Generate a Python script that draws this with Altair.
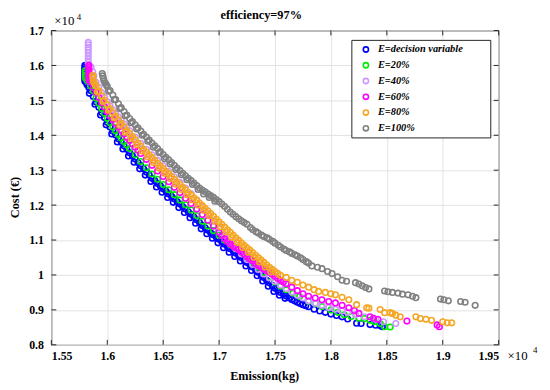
import altair as alt
import pandas as pd

series_names = ["E=decision variable", "E=20%", "E=40%", "E=60%", "E=80%", "E=100%"]
series_colors = ["#0000ff", "#00ee00", "#cc99ff", "#ff00ff", "#f5a623", "#808080"]

x_ticks = [1.55, 1.6, 1.65, 1.7, 1.75, 1.8, 1.85, 1.9, 1.95]
y_ticks = [0.8, 0.9, 1.0, 1.1, 1.2, 1.3, 1.4, 1.5, 1.6, 1.7]

# (emission x1e4 kg, cost x1e4 EUR)
blue = [(1.580,1.600),(1.580,1.595),(1.580,1.590),(1.580,1.585),(1.580,1.580),(1.580,1.575),(1.580,1.570),(1.580,1.565),(1.580,1.560),(1.580,1.555),
        (1.5815,1.549),(1.582,1.545),(1.5835,1.537),(1.585,1.528),(1.5875,1.511),(1.590,1.495),(1.5925,1.480),(1.595,1.465),(1.5975,1.451),(1.600,1.437),
        (1.6025,1.424),(1.605,1.412),(1.6075,1.401),(1.610,1.390),(1.6125,1.380),(1.615,1.370),(1.6175,1.360),(1.620,1.350),(1.6225,1.341),(1.625,1.332),
        (1.6275,1.322),(1.630,1.313),(1.6325,1.304),(1.635,1.295),(1.6375,1.286),(1.640,1.277),(1.6425,1.270),(1.645,1.262),(1.6475,1.255),(1.650,1.247),
        (1.6525,1.240),(1.655,1.232),(1.6575,1.225),(1.660,1.218),(1.6625,1.210),(1.665,1.203),(1.6675,1.196),(1.670,1.189),(1.6725,1.181),(1.675,1.174),
        (1.6775,1.166),(1.680,1.158),(1.6825,1.150),(1.685,1.142),(1.6875,1.135),(1.690,1.128),(1.6925,1.121),(1.695,1.115),(1.6975,1.108),(1.700,1.102),
        (1.7025,1.095),(1.705,1.088),(1.7075,1.081),(1.710,1.075),(1.7125,1.069),(1.715,1.063),(1.7175,1.056),(1.720,1.050),(1.7225,1.043),(1.725,1.036),
        (1.7275,1.030),(1.730,1.023),(1.7325,1.016),(1.735,1.008),(1.7375,1.000),(1.740,0.993),(1.7425,0.985),(1.745,0.978),(1.7475,0.970),(1.750,0.962),
        (1.7525,0.956),(1.755,0.950),(1.7575,0.945),(1.760,0.940),(1.7625,0.935),(1.765,0.930),(1.7675,0.926),(1.770,0.922),(1.7725,0.918),(1.775,0.915),
        (1.7775,0.912),(1.780,0.909),(1.785,0.902),(1.790,0.897),(1.795,0.893),(1.800,0.888),(1.805,0.884),(1.810,0.880),(1.815,0.874),(1.823,0.862),
        (1.827,0.861),(1.835,0.858),(1.840,0.856),(1.844,0.855),(1.846,0.852),
        # lower edge of the dense blue band
        (1.584,1.520),(1.589,1.489),(1.594,1.458),(1.599,1.430),(1.604,1.404),(1.609,1.381),(1.614,1.361),(1.619,1.341),(1.624,1.323),(1.629,1.304),
        (1.634,1.286),(1.639,1.268),(1.644,1.252),(1.649,1.237),(1.654,1.222),(1.659,1.208),(1.664,1.193),(1.669,1.179),(1.674,1.164),(1.679,1.148),
        (1.684,1.132),(1.689,1.118),(1.694,1.105),(1.699,1.092),(1.704,1.078),(1.709,1.065),(1.714,1.053),(1.719,1.040),(1.724,1.026),(1.729,1.013),
        (1.734,0.998),(1.739,0.983),(1.744,0.968),(1.749,0.953),(1.754,0.942),(1.759,0.933)]

green = [(1.5805,1.585),(1.5805,1.578),(1.5805,1.571),(1.5805,1.564),(1.582,1.557),(1.585,1.542),(1.5875,1.527),(1.590,1.507),(1.5925,1.492),(1.595,1.477),
         (1.5975,1.463),(1.600,1.449),(1.6025,1.436),(1.605,1.424),(1.6075,1.413),(1.610,1.402),(1.6125,1.392),(1.615,1.382),(1.6175,1.372),(1.620,1.362),
         (1.625,1.344),(1.630,1.325),(1.635,1.307),(1.640,1.289),(1.645,1.274),(1.650,1.259),(1.655,1.244),(1.660,1.230),(1.665,1.215),(1.670,1.201),
         (1.675,1.186),(1.680,1.170),(1.685,1.154),(1.690,1.140),(1.695,1.127),(1.700,1.114),(1.705,1.100),(1.710,1.087),(1.715,1.075),(1.720,1.062),
         (1.725,1.049),(1.730,1.036),(1.735,1.022),(1.740,1.008),(1.745,0.994),(1.750,0.980),(1.755,0.968),(1.760,0.958),(1.766,0.948),(1.772,0.938),
         (1.780,0.925),(1.786,0.918),(1.792,0.910),(1.800,0.900),(1.806,0.893),(1.812,0.886),(1.818,0.881),(1.825,0.876),(1.830,0.875),(1.835,0.870),
         (1.839,0.866),(1.844,0.861),(1.848,0.852),(1.853,0.851)]

lilac = [(1.583,1.666),(1.583,1.659),(1.583,1.652),(1.583,1.645),(1.583,1.636),(1.583,1.627),(1.583,1.618),(1.583,1.609),(1.5835,1.602),
         (1.5855,1.595),(1.587,1.582),(1.588,1.570),(1.590,1.552),(1.5925,1.537),(1.595,1.522),(1.5975,1.509),(1.600,1.496),(1.6025,1.484),(1.605,1.473),
         (1.6075,1.462),(1.610,1.452),(1.6125,1.442),(1.615,1.432),(1.6175,1.422),(1.620,1.413),(1.625,1.395),(1.630,1.377),(1.635,1.360),(1.640,1.344),
         (1.645,1.328),(1.650,1.313),(1.655,1.297),(1.660,1.281),(1.665,1.265),(1.670,1.249),(1.675,1.232),(1.680,1.215),(1.685,1.196),(1.690,1.176),
         (1.695,1.155),(1.700,1.134),(1.705,1.113),(1.710,1.094),(1.715,1.076),(1.720,1.060),(1.725,1.044),(1.730,1.030),(1.735,1.016),(1.740,1.003),
         (1.745,0.992),(1.750,0.982),(1.755,0.971),(1.760,0.961),(1.765,0.951),(1.770,0.942),(1.775,0.934),(1.780,0.926),(1.786,0.919),(1.792,0.913),
         (1.798,0.907),(1.804,0.902),(1.810,0.897),(1.815,0.893),(1.822,0.887),(1.830,0.880),(1.840,0.873),(1.847,0.866),(1.858,0.861)]

magenta = [(1.5835,1.600),(1.5835,1.594),(1.5835,1.588),(1.5835,1.582),(1.5835,1.576),(1.5835,1.570),(1.5835,1.564),(1.5835,1.558),
           (1.585,1.552),(1.5875,1.537),(1.590,1.523),(1.5925,1.508),(1.595,1.494),(1.5975,1.481),(1.600,1.468),(1.6025,1.456),(1.605,1.445),(1.6075,1.434),
           (1.610,1.424),(1.6125,1.414),(1.615,1.404),(1.6175,1.394),(1.620,1.385),(1.6225,1.375),(1.625,1.366),(1.6275,1.357),(1.630,1.348),(1.635,1.331),
           (1.640,1.314),(1.645,1.298),(1.650,1.282),(1.655,1.267),(1.660,1.251),(1.665,1.236),(1.670,1.220),(1.675,1.205),(1.680,1.189),(1.685,1.173),
           (1.690,1.157),(1.695,1.140),(1.700,1.122),(1.7025,1.113),(1.705,1.104),(1.7075,1.096),(1.710,1.089),(1.7125,1.083),(1.715,1.078),(1.7175,1.073),
           (1.720,1.066),(1.7225,1.059),(1.725,1.052),(1.7275,1.046),(1.730,1.040),(1.7325,1.033),(1.735,1.027),(1.7375,1.022),(1.740,1.017),(1.7425,1.012),
           (1.745,1.008),(1.7475,1.002),(1.750,0.996),(1.7525,0.990),(1.755,0.985),(1.7575,0.980),(1.760,0.975),(1.765,0.965),(1.770,0.955),(1.775,0.946),
           (1.780,0.939),(1.786,0.934),(1.792,0.929),(1.798,0.924),(1.804,0.920),(1.810,0.913),(1.816,0.906),(1.821,0.898),(1.825,0.890),(1.835,0.880),
           (1.838,0.876),(1.842,0.873),(1.868,0.868),(1.895,0.857),(1.897,0.852)]

orange = [(1.5870,1.572),(1.5872,1.565),(1.5875,1.558),(1.588,1.551),(1.589,1.546),(1.590,1.541),(1.5925,1.527),(1.595,1.513),(1.5975,1.500),(1.600,1.488),
          (1.6025,1.476),(1.605,1.465),(1.6075,1.454),(1.610,1.444),(1.6125,1.434),(1.615,1.424),(1.6175,1.414),(1.620,1.405),(1.6225,1.396),(1.625,1.387),
          (1.6275,1.378),(1.630,1.369),(1.6325,1.360),(1.635,1.352),(1.6375,1.344),(1.640,1.336),(1.6425,1.328),(1.645,1.320),(1.6475,1.312),(1.650,1.305),
          (1.6525,1.297),(1.655,1.290),(1.6575,1.282),(1.660,1.274),(1.6625,1.266),(1.665,1.259),(1.6675,1.251),(1.670,1.244),(1.6725,1.236),(1.675,1.229),
          (1.6775,1.221),(1.680,1.214),(1.6825,1.206),(1.685,1.199),(1.6875,1.191),(1.690,1.184),(1.6925,1.176),(1.695,1.168),(1.6975,1.160),(1.700,1.152),
          (1.7025,1.145),(1.705,1.137),(1.7075,1.129),(1.710,1.122),(1.7125,1.114),(1.715,1.106),(1.7175,1.099),(1.720,1.092),(1.7225,1.085),(1.725,1.078),
          (1.7275,1.071),(1.730,1.064),(1.7325,1.057),(1.735,1.050),(1.7375,1.043),(1.740,1.036),(1.7425,1.029),(1.745,1.022),(1.7475,1.016),(1.750,1.010),
          (1.7525,1.004),(1.755,0.999),(1.760,0.993),(1.765,0.985),(1.770,0.979),(1.775,0.971),(1.780,0.965),(1.785,0.958),(1.789,0.953),(1.795,0.950),
          (1.800,0.946),(1.804,0.943),(1.810,0.936),(1.816,0.929),(1.823,0.915),(1.832,0.906),(1.834,0.905),(1.844,0.901),(1.848,0.892),(1.853,0.892),
          (1.855,0.890),(1.858,0.885),(1.862,0.880),(1.876,0.880),(1.880,0.875),(1.885,0.873),(1.890,0.870),(1.900,0.866),(1.904,0.863),(1.908,0.863),
          # lower edge of the dense orange band
          (1.5912,1.524),(1.5962,1.497),(1.6012,1.472),(1.6062,1.450),(1.6112,1.429),(1.6162,1.409),(1.6212,1.391),(1.6262,1.373),(1.6312,1.355),(1.6362,1.338),
          (1.6412,1.322),(1.6462,1.306),(1.6512,1.291),(1.6562,1.276),(1.6612,1.260),(1.6662,1.245),(1.6712,1.230),(1.6762,1.215),(1.6812,1.200),(1.6862,1.185),
          (1.6912,1.170),(1.6962,1.154),(1.7012,1.138),(1.7062,1.123),(1.7112,1.108),(1.7162,1.093),(1.7212,1.079),(1.7262,1.065),(1.7312,1.051),(1.7362,1.037),
          (1.7412,1.023),(1.7462,1.009)]

gray = [(1.5955,1.577),(1.596,1.570),(1.5965,1.563),(1.597,1.556),(1.598,1.550),(1.599,1.545),(1.600,1.540),(1.6025,1.528),(1.605,1.515),(1.6075,1.502),
        (1.610,1.490),(1.6125,1.479),(1.615,1.468),(1.6175,1.458),(1.620,1.448),(1.6225,1.439),(1.625,1.430),(1.6275,1.421),(1.630,1.412),(1.6325,1.403),
        (1.635,1.395),(1.6375,1.386),(1.640,1.378),(1.6425,1.370),(1.645,1.362),(1.6475,1.353),(1.650,1.345),(1.6525,1.337),(1.655,1.330),(1.6575,1.322),
        (1.660,1.314),(1.6625,1.306),(1.665,1.299),(1.6675,1.291),(1.670,1.284),(1.6725,1.277),(1.675,1.270),(1.6775,1.263),(1.680,1.256),(1.6825,1.249),
        (1.685,1.243),(1.6875,1.238),(1.690,1.232),(1.6925,1.227),(1.695,1.222),(1.6975,1.216),(1.700,1.210),(1.7025,1.203),(1.705,1.196),(1.7075,1.188),
        (1.710,1.180),(1.7125,1.174),(1.715,1.167),(1.7175,1.161),(1.720,1.155),(1.7225,1.150),(1.725,1.145),(1.728,1.136),(1.730,1.130),(1.733,1.124),
        (1.735,1.120),(1.738,1.114),(1.740,1.110),(1.743,1.106),(1.745,1.102),(1.748,1.096),(1.750,1.091),(1.753,1.085),(1.755,1.080),(1.758,1.074),
        (1.760,1.070),(1.763,1.066),(1.765,1.062),(1.768,1.058),(1.770,1.054),(1.773,1.049),(1.775,1.044),(1.778,1.038),(1.780,1.034),(1.783,1.026),
        (1.788,1.022),(1.792,1.018),(1.797,1.010),(1.801,1.004),(1.806,0.995),(1.810,0.985),(1.814,0.982),(1.822,0.978),(1.825,0.974),(1.828,0.969),
        (1.831,0.964),(1.834,0.960),(1.848,0.954),(1.851,0.952),(1.855,0.950),(1.860,0.948),(1.864,0.945),(1.869,0.943),(1.873,0.939),(1.876,0.935),
        (1.898,0.931),(1.901,0.929),(1.905,0.926),(1.916,0.924),(1.920,0.922),(1.929,0.913),
        # lower edge of the dense gray band
        (1.6012,1.526),(1.6062,1.502),(1.6112,1.477),(1.6162,1.456),(1.6212,1.436),(1.6262,1.418),(1.6312,1.400),(1.6362,1.383),(1.6412,1.366),(1.6462,1.350),
        (1.6512,1.333),(1.6562,1.318),(1.6612,1.302),(1.6662,1.287),(1.6712,1.273),(1.6762,1.259),(1.6812,1.245),(1.6862,1.232),(1.6912,1.222),(1.6962,1.211)]

all_series = [blue, green, lilac, magenta, orange, gray]

rows = []
for name, pts in zip(series_names, all_series):
    for (xv, yv) in pts:
        rows.append({"x": xv, "y": yv, "series": name})
df = pd.DataFrame(rows)
df["ord"] = range(len(df))

FONT = "Liberation Serif"
W, H = 454, 319
FRAME = "#262626"

xscale = alt.Scale(domain=[1.55, 1.95], nice=False, zero=False)
yscale = alt.Scale(domain=[0.8, 1.7], nice=False, zero=False)

x_axis = alt.Axis(values=x_ticks, format=".2~f", title="Emission(kg)", grid=True,
                  titleX=216, titleY=25, titleBaseline="top", titleAlign="center",
                  labelPadding=6, domain=False, ticks=False, gridColor="#e3e3e3",
                  labelFont=FONT, labelFontSize=12, labelFontWeight="bold", labelColor="black",
                  titleFont=FONT, titleFontSize=12.5, titleFontWeight="bold", titleColor="black")
y_axis = alt.Axis(values=y_ticks, format=".1~f", title="Cost (€)", grid=True,
                  titleX=-37, titleY=169, titleAngle=270, titleBaseline="middle", titleAlign="center",
                  labelPadding=8, domain=False, ticks=False, gridColor="#e3e3e3",
                  labelFont=FONT, labelFontSize=12, labelFontWeight="bold", labelColor="black",
                  titleFont=FONT, titleFontSize=12.5, titleFontWeight="bold", titleColor="black")

# legend frame (drawn behind the legend entries)
legend_box = alt.Chart(pd.DataFrame({"k": [0]})).mark_rect(
    fill="white", stroke=FRAME, strokeWidth=1).encode(
    x=alt.value(305), x2=alt.value(446), y=alt.value(10), y2=alt.value(109))

points = alt.Chart(df).mark_point(filled=False, shape="circle", size=32, strokeWidth=1.6, opacity=1).encode(
    x=alt.X("x:Q", scale=xscale, axis=x_axis),
    y=alt.Y("y:Q", scale=yscale, axis=y_axis),
    color=alt.Color("series:N", scale=alt.Scale(domain=series_names, range=series_colors),
                    legend=alt.Legend(orient="none", legendX=314, legendY=14, title=None,
                                      padding=0, strokeColor="transparent",
                                      labelFont=FONT, labelFontSize=10.5, labelFontStyle="italic",
                                      labelFontWeight="bold", labelColor="black",
                                      symbolType="circle", symbolSize=28, symbolStrokeWidth=1.6,
                                      symbolFillColor="transparent", labelOffset=7,
                                      rowPadding=3)),
    order=alt.Order("ord:Q"),
)

xt = pd.DataFrame({"x": x_ticks})
yt = pd.DataFrame({"y": y_ticks})
tick_bottom = alt.Chart(xt).mark_rule(color=FRAME, strokeWidth=1).encode(
    x=alt.X("x:Q", scale=xscale, axis=x_axis), y=alt.value(H), y2=alt.value(H - 5))
tick_top = alt.Chart(xt).mark_rule(color=FRAME, strokeWidth=1).encode(
    x=alt.X("x:Q", scale=xscale, axis=x_axis), y=alt.value(0), y2=alt.value(5))
tick_left = alt.Chart(yt).mark_rule(color=FRAME, strokeWidth=1).encode(
    y=alt.Y("y:Q", scale=yscale, axis=y_axis), x=alt.value(0), x2=alt.value(5))
tick_right = alt.Chart(yt).mark_rule(color=FRAME, strokeWidth=1).encode(
    y=alt.Y("y:Q", scale=yscale, axis=y_axis), x=alt.value(W), x2=alt.value(W - 5))

ann = pd.DataFrame({"t": ["×10"]})
exp = pd.DataFrame({"t": ["4"]})
ttl = pd.DataFrame({"t": ["efficiency=97%"]})
title_mark = alt.Chart(ttl).mark_text(font=FONT, fontSize=12.5, fontWeight="bold", align="center",
                                      baseline="middle", color="black").encode(
    text="t:N", x=alt.value(W / 2 - 14), y=alt.value(-16))
mult_tl = alt.Chart(ann).mark_text(font=FONT, fontSize=13, align="left", baseline="middle", color="black").encode(
    text="t:N", x=alt.value(3), y=alt.value(-10))
exp_tl = alt.Chart(exp).mark_text(font=FONT, fontSize=9, align="center", baseline="middle", color="black").encode(
    text="t:N", x=alt.value(28), y=alt.value(-14))
mult_br = alt.Chart(ann).mark_text(font=FONT, fontSize=13, align="left", baseline="middle", color="black").encode(
    text="t:N", x=alt.value(463), y=alt.value(H + 11))
exp_br = alt.Chart(exp).mark_text(font=FONT, fontSize=9, align="center", baseline="middle", color="black").encode(
    text="t:N", x=alt.value(491), y=alt.value(H + 5))

chart = alt.layer(legend_box, points, tick_bottom, tick_top, tick_left, tick_right,
                  title_mark, mult_tl, exp_tl, mult_br, exp_br).properties(
    width=W, height=H,
    background="white",
    autosize=alt.AutoSizeParams(type="none"),
    padding={"left": 44, "top": 20, "right": 44, "bottom": 42},
).configure_view(stroke=FRAME, strokeWidth=1).configure_text(font=FONT)

chart.save("out.html", embed_options={"renderer": "svg", "actions": False})
